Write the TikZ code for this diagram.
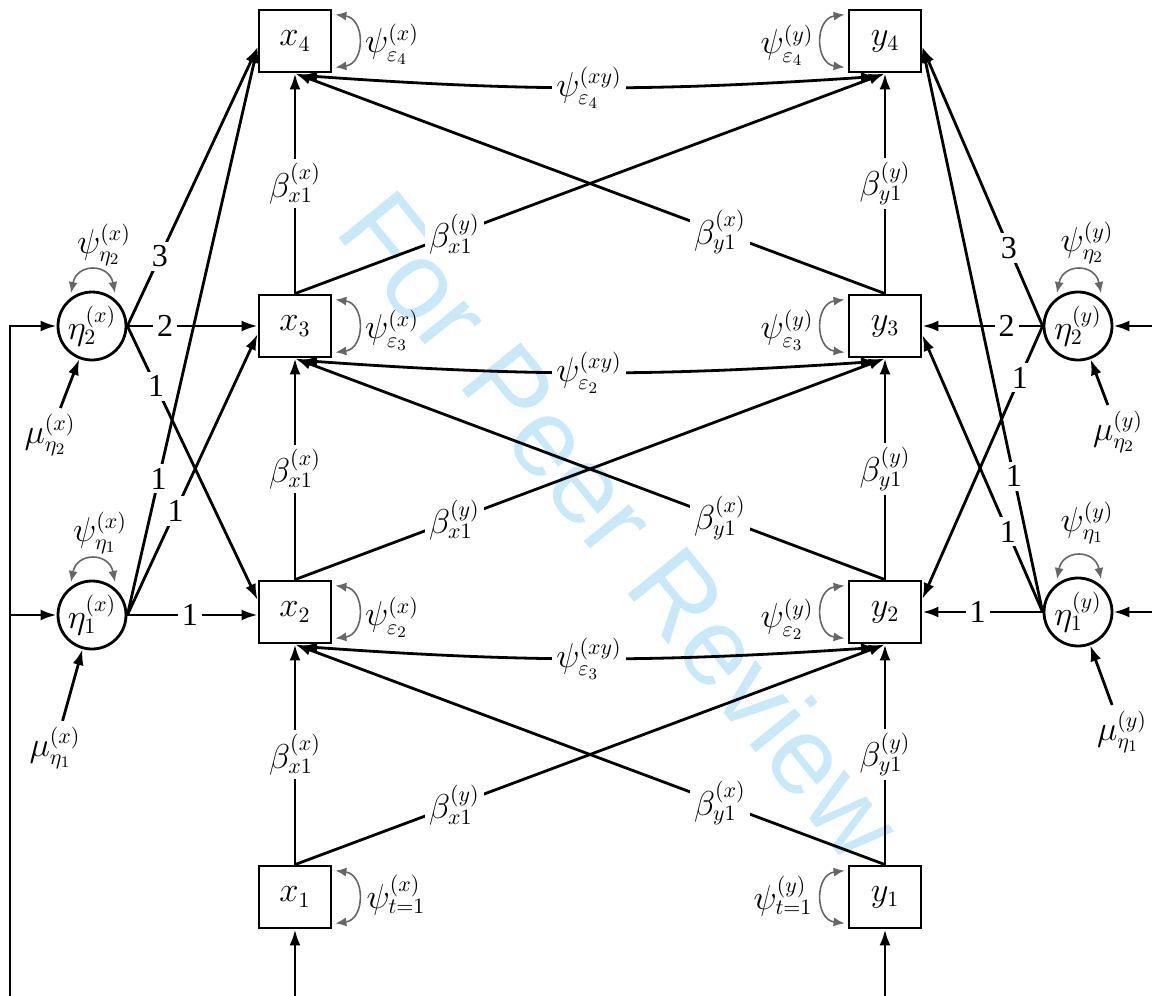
\documentclass[tikz,border=0pt]{standalone}
\usepackage{fontspec}
\setmainfont{Liberation Serif}
\newfontfamily\wmfont{Liberation Sans}
\usetikzlibrary{arrows.meta,calc}
\definecolor{wm}{RGB}{200,233,250}
\begin{document}
\begin{tikzpicture}[x=0.5pt,y=-0.5pt,
  font=\fontsize{16}{19}\selectfont,
  box/.style={draw,line width=1.4pt,minimum width=36pt,minimum height=31pt,inner sep=0pt},
  lat/.style={draw,circle,line width=1.4pt,minimum size=34pt,inner sep=0pt},
  arr/.style={line width=1.4pt,-{Latex[length=8pt,width=5.5pt]}},
  cxy/.style={line width=1.4pt,{Latex[length=8pt,width=5.5pt]}-{Latex[length=8pt,width=5.5pt]}},
  cov/.style={draw=black!60,line width=0.8pt,{Latex[length=5.5pt,width=4.5pt]}-{Latex[length=5.5pt,width=4.5pt]}},
  lab/.style={fill=white,inner sep=2pt},
  txt/.style={inner sep=1pt},
]
\useasboundingbox (0,0) rectangle (1152,996);
% watermark
\node[text=wm,rotate=-51,font=\wmfont\fontsize{55}{60}\selectfont] (wmark) at (622,525) {For Peer Review};

% observed variables
\node[box] (x4) at (295,41) {$x_4$};
\node[box] (x3) at (295,326) {$x_3$};
\node[box] (x2) at (295,612) {$x_2$};
\node[box] (x1) at (295,897) {$x_1$};
\node[box] (y4) at (885,41) {$y_4$};
\node[box] (y3) at (885,326) {$y_3$};
\node[box] (y2) at (885,612) {$y_2$};
\node[box] (y1) at (885,897) {$y_1$};

% latent variables
\node[lat] (e2x) at (92,326) {$\eta^{(x)}_2$};
\node[lat] (e1x) at (92,615) {$\eta^{(x)}_1$};
\node[lat] (e2y) at (1078,326) {$\eta^{(y)}_2$};
\node[lat] (e1y) at (1078,612) {$\eta^{(y)}_1$};

% mean labels
\node[txt] (m2x) at (50,435) {$\mu^{(x)}_{\eta_2}$};
\node[txt] (m1x) at (55,748) {$\mu^{(x)}_{\eta_1}$};
\node[txt] (m2y) at (1118,432) {$\mu^{(y)}_{\eta_2}$};
\node[txt] (m1y) at (1122,732) {$\mu^{(y)}_{\eta_1}$};
\draw[arr,shorten <=2pt] (m2x) -- (e2x);
\draw[arr,shorten <=2pt] (m1x) -- (e1x);
\draw[arr,shorten <=2pt] (m2y) -- (e2y);
\draw[arr,shorten <=2pt] (m1y) -- (e1y);

% latent variances
\node[txt] (v2x) at (104,245) {$\psi^{(x)}_{\eta_2}$};
\node[txt] (v1x) at (100,533) {$\psi^{(x)}_{\eta_1}$};
\node[txt] (v2y) at (1087,243) {$\psi^{(y)}_{\eta_2}$};
\node[txt] (v1y) at (1087,523) {$\psi^{(y)}_{\eta_1}$};
\draw[cov] ($(e2x)+(-21,-33)$) .. controls +(6,-30) and +(-6,-30) .. ($(e2x)+(23,-33)$);
\draw[cov] ($(e1x)+(-21,-33)$) .. controls +(6,-30) and +(-6,-30) .. ($(e1x)+(23,-33)$);
\draw[cov] ($(e2y)+(-21,-33)$) .. controls +(6,-30) and +(-6,-30) .. ($(e2y)+(23,-33)$);
\draw[cov] ($(e1y)+(-21,-33)$) .. controls +(6,-30) and +(-6,-30) .. ($(e1y)+(23,-33)$);

% residual variances
\node[txt] (r4x) at (392,44) {$\psi^{(x)}_{\varepsilon_4}$};
\node[txt] (r3x) at (392,330) {$\psi^{(x)}_{\varepsilon_3}$};
\node[txt] (r2x) at (392,617) {$\psi^{(x)}_{\varepsilon_2}$};
\node[txt] (r1x) at (396,895) {$\psi^{(x)}_{t=1}$};
\node[txt] (r4y) at (787,45) {$\psi^{(y)}_{\varepsilon_4}$};
\node[txt] (r3y) at (787,330) {$\psi^{(y)}_{\varepsilon_3}$};
\node[txt] (r2y) at (787,619) {$\psi^{(y)}_{\varepsilon_2}$};
\node[txt] (r1y) at (783,896) {$\psi^{(y)}_{t=1}$};
\foreach \n in {x4,x3,x2,x1}{
  \draw[cov] ($(\n.north east)+(3,6)$) .. controls +(30,4) and +(30,-4) .. ($(\n.south east)+(3,-6)$);
}
\foreach \n in {y4,y3,y2,y1}{
  \draw[cov] ($(\n.north west)+(-3,6)$) .. controls +(-30,4) and +(-30,-4) .. ($(\n.south west)+(-3,-6)$);
}

% external inputs
\coordinate (lb) at (10,996);
\coordinate (lm) at (10,615);
\coordinate (rt) at (1152,326);
\coordinate (rm) at (1152,612);
\coordinate (bx) at (295,996);
\coordinate (by) at (885,996);
\draw[arr] (lb) |- (e2x.west);
\draw[arr] (lm) -- (e1x.west);
\draw[arr] (rt) -- (e2y.east);
\draw[arr] (rm) -- (e1y.east);
\draw[arr] (bx) -- (x1.south);
\draw[arr] (by) -- (y1.south);

% factor loadings, x side
\draw[arr] (e2x.east) -- node[lab,pos=.25]{3} ($(x4.west)+(0,6)$);
\draw[arr] (e2x.east) -- node[lab,pos=.29]{2} (x3.west);
\draw[arr] (e2x.east) -- node[lab,pos=.22]{1} ($(x2.west)+(0,-12)$);
\draw[arr] (e1x.east) -- node[lab,pos=.48]{1} (e1x.east -| x2.west);
\draw[arr] (e1x.east) -- node[lab,pos=.37]{1} ($(x3.west)+(0,8)$);
\draw[arr] (e1x.east) -- node[lab,pos=.24]{1} ($(x4.west)+(0,6)$);
% factor loadings, y side
\draw[arr] (e2y.west) -- node[lab,pos=.28]{3} ($(y4.east)+(0,6)$);
\draw[arr] (e2y.west) -- node[lab,pos=.30]{2} (y3.east);
\draw[arr] (e2y.west) -- node[lab,pos=.19]{1} ($(y2.east)+(0,-13)$);
\draw[arr] (e1y.west) -- node[lab,pos=.54]{1} (y2.east);
\draw[arr] (e1y.west) -- node[lab,pos=.29]{1} ($(y3.east)+(0,9)$);
\draw[arr] (e1y.west) -- node[lab,pos=.24]{1} ($(y4.east)+(0,6)$);

% autoregressive and cross-lagged paths
\foreach \a/\b in {1/2,2/3,3/4}{
  \draw[arr] (x\a.north) -- node[lab,pos=.5]{$\beta^{(x)}_{x1}$} (x\b.south);
  \draw[arr] (y\a.north) -- node[lab,pos=.5]{$\beta^{(y)}_{y1}$} (y\b.south);
  \draw[arr] (x\a.north) -- node[lab,pos=.27]{$\beta^{(y)}_{x1}$} (y\b.south);
  \draw[arr] (y\a.north) -- node[lab,pos=.28]{$\beta^{(x)}_{y1}$} (x\b.south);
}

% residual covariances
\draw[cxy] ($(x4.south)+(6,2)$) to[bend right=4] node[lab,pos=.5]{$\psi^{(xy)}_{\varepsilon_4}$} ($(y4.south)+(-8,3)$);
\draw[cxy] ($(x3.south)+(6,2)$) to[bend right=4] node[lab,pos=.5]{$\psi^{(xy)}_{\varepsilon_2}$} ($(y3.south)+(-8,3)$);
\draw[cxy] ($(x2.south)+(6,2)$) to[bend right=4] node[lab,pos=.5]{$\psi^{(xy)}_{\varepsilon_3}$} ($(y2.south)+(-8,3)$);
\end{tikzpicture}
\end{document}
